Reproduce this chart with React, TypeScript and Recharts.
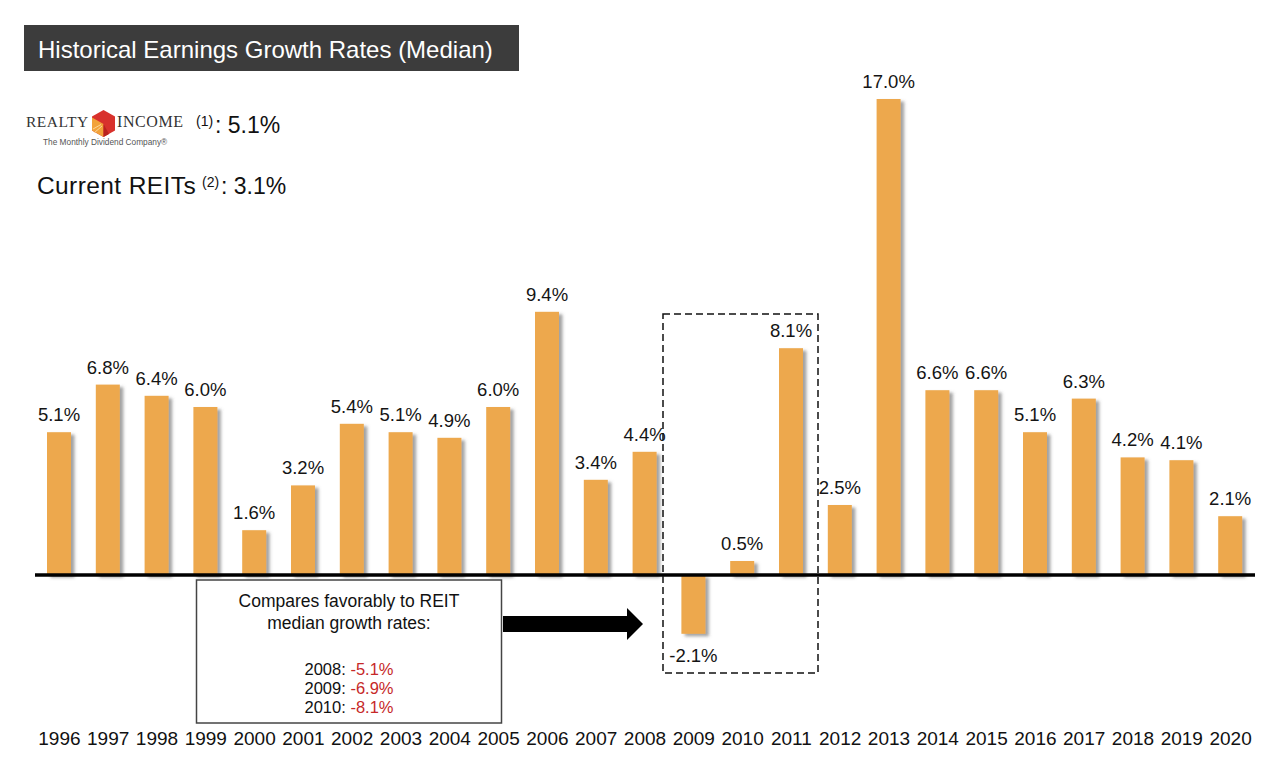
import { Bar, BarChart, LabelList, ReferenceLine, XAxis, YAxis } from 'recharts'

const years = [
  '1996', '1997', '1998', '1999', '2000', '2001', '2002', '2003', '2004',
  '2005', '2006', '2007', '2008', '2009', '2010', '2011', '2012', '2013',
  '2014', '2015', '2016', '2017', '2018', '2019', '2020',
]
const growth = [
  5.1, 6.8, 6.4, 6.0, 1.6, 3.2, 5.4, 5.1, 4.9, 6.0, 9.4, 3.4, 4.4, -2.1,
  0.5, 8.1, 2.5, 17.0, 6.6, 6.6, 5.1, 6.3, 4.2, 4.1, 2.1,
]
const reitYears = ['2008', '2009', '2010']
const reitGrowth = ['-5.1%', '-6.9%', '-8.1%']

const data = years.map((year, i) => ({ year, value: growth[i] }))

const FONT = '"Liberation Sans", Arial, Helvetica, sans-serif'
const SERIF = '"Liberation Serif", "Times New Roman", serif'
const BAR = '#EDA84D'

const BarShape = (props: any) => {
  const { x, y, width, height } = props
  const top = Math.min(y, y + height)
  const h = Math.abs(height)
  return <rect x={x} y={top} width={width} height={h} fill={BAR} filter="url(#barShadow)" />
}

const ValueLabel = (props: any) => {
  const { x, y, width, height, value } = props
  const top = Math.min(y, y + height)
  const bottom = Math.max(y, y + height)
  const ty = value >= 0 ? top - 11 : bottom + 28
  return (
    <text x={x + width / 2} y={ty} textAnchor="middle" fontFamily={FONT} fontSize={18.5} fill="#141414">
      {Number(value).toFixed(1)}%
    </text>
  )
}

const YearTick = (props: any) => {
  const { x, payload } = props
  return (
    <text x={x} y={745} textAnchor="middle" fontFamily={FONT} fontSize={19} fill="#111">
      {payload.value}
    </text>
  )
}

function Overlay() {
  return (
    <svg
      width={1280}
      height={758}
      style={{ position: 'absolute', left: 0, top: 0, pointerEvents: 'none' }}
    >
      {/* title bar */}
      <rect x={24} y={25} width={495} height={46} fill="#3c3c3c" />
      <text x={38} y={58} fontFamily={FONT} fontSize={24} fill="#fff">
        Historical Earnings Growth Rates (Median)
      </text>

      {/* logo */}
      <text x={26} y={127} fontFamily={SERIF} fontSize={15.5} letterSpacing={0.5} fill="#333">
        REALTY
      </text>
      <polygon points="103.5,110 115,116.5 115,130.5 103.5,137 92,130.5 92,116.5" fill="#d8312c" />
      <polygon points="92,117.5 103.5,124 103.5,137 92,130.5" fill="#f2a23a" />
      <polygon points="103.5,124 103.5,137 109,134" fill="#b8231f" />
      <line x1={93} y1={129} x2={101} y2={124.5} stroke="#fde2b0" strokeWidth={0.8} />
      <line x1={94} y1={133} x2={102} y2={126} stroke="#fde2b0" strokeWidth={0.8} />
      <text x={117} y={127} fontFamily={SERIF} fontSize={16} letterSpacing={0.6} fill="#333">
        INCOME
      </text>
      <text x={43} y={145} fontFamily={FONT} fontSize={8.3} fill="#555">
        The Monthly Dividend Company®
      </text>
      <text x={196} y={126} fontFamily={FONT} fontSize={14} fill="#111">(1)</text>
      <text x={215} y={133} fontFamily={FONT} fontSize={23} fill="#111">: 5.1%</text>

      <text x={37} y={194} fontFamily={FONT} fontSize={24.5} letterSpacing={0.4} fill="#111">
        Current REITs
      </text>
      <text x={202} y={187} fontFamily={FONT} fontSize={14} fill="#111">(2)</text>
      <text x={221} y={194} fontFamily={FONT} fontSize={23} fill="#111">: 3.1%</text>

      {/* dashed highlight */}
      <rect x={663} y={314} width={155} height={359} fill="none" stroke="#111" strokeWidth={1.5} strokeDasharray="7 4" />

      {/* annotation box */}
      <rect x={196.5} y={580} width={305} height={143} fill="#fff" stroke="#444" strokeWidth={1.5} />
      <text x={349} y={607} textAnchor="middle" fontFamily={FONT} fontSize={17.5} fill="#111">
        Compares favorably to REIT
      </text>
      <text x={349} y={629} textAnchor="middle" fontFamily={FONT} fontSize={17.5} fill="#111">
        median growth rates:
      </text>
      {reitYears.map((yr, i) => (
        <text key={yr} x={349} y={675 + i * 19} textAnchor="middle" fontFamily={FONT} fontSize={16.5} fill="#111">
          {yr}: <tspan fill="#c62828">{reitGrowth[i]}</tspan>
        </text>
      ))}

      {/* arrow */}
      <polygon points="503,616 627,616 627,608 643,624 627,640 627,632 503,632" fill="#000" />
    </svg>
  )
}

export default function App() {
  return (
    <div style={{ position: 'absolute', left: 0, top: 0, width: 1280, height: 758, background: '#fff' }}>
      <svg width={0} height={0} style={{ position: 'absolute' }}>
        <defs>
          <filter id="barShadow" x="-50%" y="-50%" width="250%" height="200%">
            <feDropShadow dx={3.5} dy={2.5} stdDeviation={1.8} floodColor="#555" floodOpacity={0.55} />
          </filter>
        </defs>
      </svg>
      <BarChart
        width={1280}
        height={758}
        data={data}
        margin={{ top: 71, right: 25, bottom: 0, left: 35 }}
        barSize={24}
      >
        <XAxis
          dataKey="year"
          height={43}
          axisLine={false}
          tickLine={false}
          interval={0}
          tick={<YearTick />}
        />
        <YAxis hide type="number" domain={[-5, 18]} allowDataOverflow />
        <Bar dataKey="value" shape={<BarShape />} isAnimationActive={false}>
          <LabelList dataKey="value" content={<ValueLabel />} />
        </Bar>
        <ReferenceLine y={0} stroke="#000" strokeWidth={3.5} ifOverflow="extendDomain" />
      </BarChart>
      <Overlay />
    </div>
  )
}
